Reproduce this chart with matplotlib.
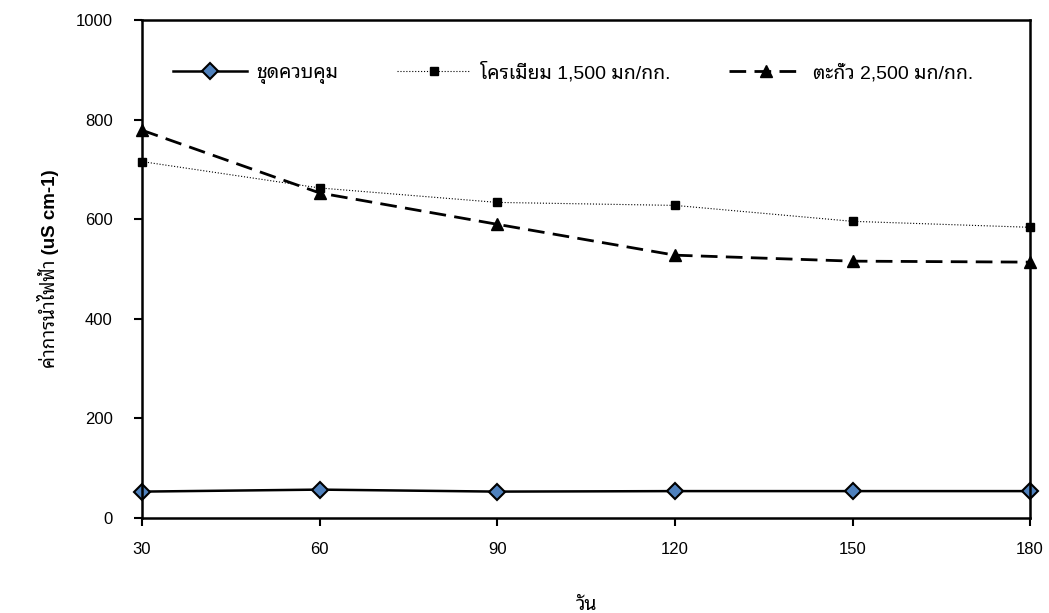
import matplotlib
matplotlib.use("Agg")
import matplotlib.pyplot as plt

days = [30, 60, 90, 120, 150, 180]
control = [53, 57, 53, 54, 54, 54]
chromium = [716, 663, 634, 628, 596, 584]
lead = [779, 653, 590, 528, 516, 514]

# Arial-like for digits, a looped Thai face for the Thai text
plt.rcParams['font.family'] = ['Liberation Sans', 'Noto Sans Thai Looped', 'DejaVu Sans']

fig = plt.figure(figsize=(10.49, 6.13), dpi=100)
ax = fig.add_axes([0.1354, 0.155, 0.8466, 0.812])

ax.plot(days, control, '-', color='black', lw=1.8, marker='D', ms=8,
        mfc='#4F81BD', mec='black', mew=1.5, label='ชุดควบคุม')
ax.plot(days, chromium, ':', color='black', lw=0.8, marker='s', ms=6,
        mfc='black', mec='black', label='โครเมียม 1,500 มก/กก.')
ax.plot(days, lead, '--', color='black', lw=2, dashes=(6, 3), marker='^', ms=9,
        mfc='black', mec='black', label='ตะกั่ว 2,500 มก/กก.')

ax.set_xlim(30, 180)
ax.set_ylim(0, 1000)
ax.set_xticks(days)
ax.set_yticks(range(0, 1001, 200))
ax.tick_params(axis='x', direction='out', length=6, width=1.5, pad=11, labelsize=12)
ax.tick_params(axis='y', direction='out', length=6, width=1.5, pad=15, labelsize=12)
for s in ax.spines.values():
    s.set_linewidth(1.8)
for l in ax.lines:
    l.set_clip_on(False)

ax.set_xlabel('วัน', fontsize=14, fontweight='bold', labelpad=29)
ax.set_ylabel('ค่าการนำไฟฟ้า (uS cm-1)', fontsize=13.5, fontweight='bold', labelpad=12)
ax.legend(loc='center', bbox_to_anchor=(0.485, 0.894), ncol=3, frameon=False,
          fontsize=14, handlelength=3.8, handletextpad=0.5, columnspacing=3.0,
          borderpad=0)

fig.savefig('out.png', dpi=100)
